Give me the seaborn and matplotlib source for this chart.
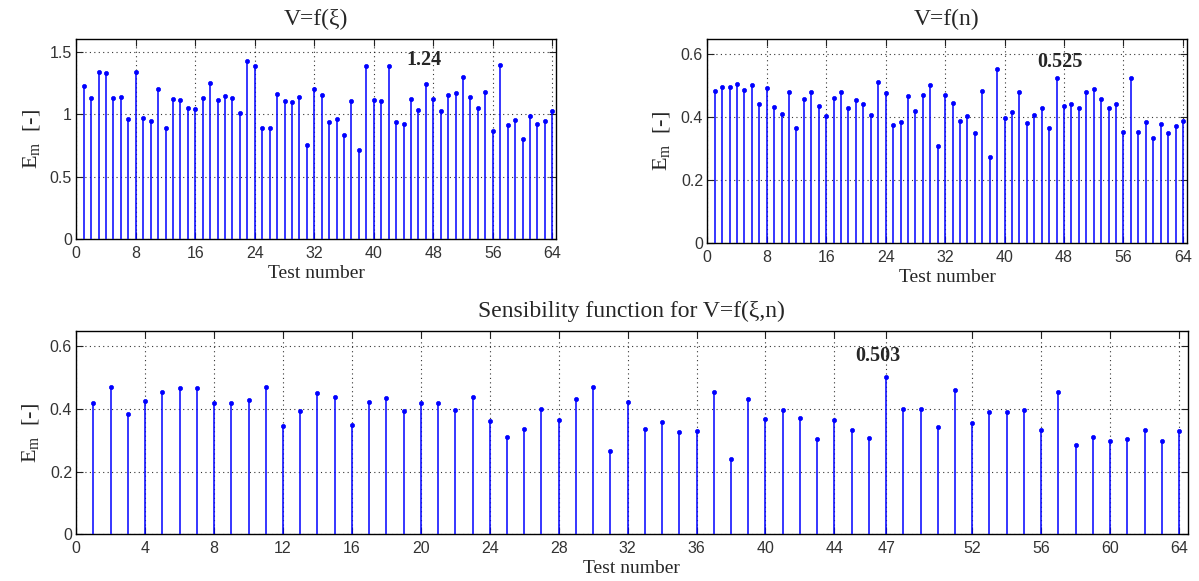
import numpy as np
import pandas as pd
import matplotlib
matplotlib.use("Agg")
import matplotlib.pyplot as plt
import seaborn as sns

# ---------------- data ----------------
tests = list(range(1, 65))

em_xi = [1.224, 1.131, 1.333, 1.325, 1.131, 1.139, 0.964, 1.333, 0.972, 0.948,
         1.200, 0.887, 1.123, 1.112, 1.049, 1.038, 1.131, 1.248, 1.115, 1.142,
         1.131, 1.006, 1.423, 1.383, 0.887, 0.887, 1.158, 1.104, 1.096, 1.139,
         0.754, 1.200, 1.152, 0.940, 0.964, 0.831, 1.104, 0.714, 1.383, 1.115,
         1.107, 1.386, 0.935, 0.924, 1.123, 1.030, 1.240, 1.123, 1.025, 1.150,
         1.165, 1.298, 1.139, 1.049, 1.173, 0.865, 1.391, 0.916, 0.956, 0.804,
         0.982, 0.924, 0.948, 1.022]

em_n = [0.484, 0.497, 0.497, 0.507, 0.488, 0.502, 0.441, 0.494, 0.434, 0.411,
        0.480, 0.367, 0.457, 0.480, 0.437, 0.403, 0.460, 0.480, 0.428, 0.454,
        0.441, 0.407, 0.511, 0.477, 0.374, 0.384, 0.467, 0.421, 0.472, 0.503,
        0.310, 0.471, 0.446, 0.388, 0.404, 0.350, 0.484, 0.274, 0.554, 0.397,
        0.418, 0.480, 0.381, 0.406, 0.428, 0.367, 0.525, 0.437, 0.441, 0.428,
        0.480, 0.491, 0.457, 0.431, 0.441, 0.354, 0.524, 0.354, 0.384, 0.333,
        0.377, 0.350, 0.371, 0.388]

em_xin = [0.418, 0.471, 0.384, 0.424, 0.455, 0.468, 0.468, 0.418, 0.418, 0.429,
          0.471, 0.347, 0.395, 0.451, 0.438, 0.350, 0.422, 0.435, 0.395, 0.418,
          0.418, 0.398, 0.438, 0.361, 0.311, 0.335, 0.401, 0.365, 0.431, 0.469,
          0.265, 0.421, 0.335, 0.359, 0.328, 0.331, 0.455, 0.241, 0.431, 0.368,
          0.398, 0.371, 0.305, 0.365, 0.334, 0.308, 0.503, 0.401, 0.401, 0.341,
          0.460, 0.354, 0.392, 0.392, 0.398, 0.334, 0.455, 0.284, 0.311, 0.297,
          0.305, 0.334, 0.297, 0.331]

titles = ["V=f(\u03be)", "V=f(n)", "Sensibility function for V=f(\u03be,n)"]
xlabel = "Test number"
ylabel = "E$_\\mathregular{m}$  [-]"

xticks_top = [0, 8, 16, 24, 32, 40, 48, 56, 64]
xticks_bottom = [0, 4, 8, 12, 16, 20, 24, 28, 32, 36, 40, 44, 47, 52, 56, 60, 64]
yticks_xi = [0, 0.5, 1, 1.5]
ytick_labels_xi = ["0", "0.5", "1", "1.5"]
yticks_n = [0, 0.2, 0.4, 0.6]
ytick_labels_n = ["0", "0.2", "0.4", "0.6"]

annot = [("1.24", 47), ("0.525", 47), ("0.503", 47)]

# ---------------- style ----------------
sns.set_style("white")
plt.rcParams["font.family"] = ["Liberation Serif", "DejaVu Serif"]
plt.rcParams["mathtext.fontset"] = "custom"
plt.rcParams["mathtext.rm"] = "Liberation Serif"
plt.rcParams["mathtext.it"] = "Liberation Serif:italic"

fig = plt.figure(figsize=(11.99, 5.81), dpi=100)
ax1 = fig.add_axes([0.0636, 0.5886, 0.4001, 0.3442])
ax2 = fig.add_axes([0.5899, 0.5818, 0.3998, 0.3516])
ax3 = fig.add_axes([0.0636, 0.0804, 0.9269, 0.3504])

blue = "#0000ff"

def draw(ax, values, ylim, yticks, yticklabels, xticks, title, label, xtext, ytext):
    df = pd.DataFrame({"test": tests, "em": values})
    ax.vlines(df["test"], 0, df["em"], color=blue, linewidth=1.1, zorder=3)
    sns.scatterplot(data=df, x="test", y="em", ax=ax, color=blue, s=9,
                    marker="o", edgecolor=blue, linewidth=0.5, zorder=4, legend=False)
    ax.set_xlim(0, 64.5)
    ax.set_ylim(*ylim)
    ax.set_xticks(xticks)
    ax.set_xticklabels([str(t) for t in xticks], family=["Liberation Sans"],
                       fontsize=11.5, color="#333333")
    ax.set_yticks(yticks)
    ax.set_yticklabels(yticklabels, family=["Liberation Sans"], fontsize=11.5,
                       color="#333333")
    ax.tick_params(direction="in", length=5, width=0.8, top=True, right=True,
                   bottom=True, left=True, pad=3, color="#222222")
    ax.tick_params(axis="x", pad=5)
    ax.grid(True, linestyle=(0, (1, 3)), color="black", linewidth=0.8, alpha=0.8)
    ax.set_axisbelow(True)
    for sp in ax.spines.values():
        sp.set_visible(True)
        sp.set_color("black")
        sp.set_linewidth(1.0)
    ax.set_title(title, fontsize=17, pad=10)
    ax.set_xlabel(xlabel, fontsize=14, labelpad=3)
    ax.set_ylabel(ylabel, fontsize=16, labelpad=6)
    ax.text(xtext, ytext, label, ha="center", va="center", fontsize=14.5,
            fontweight="bold", zorder=5)

draw(ax1, em_xi, (0, 1.6), yticks_xi, ytick_labels_xi, xticks_top, titles[0],
     annot[0][0], 46.7, 1.43)
draw(ax2, em_n, (0, 0.65), yticks_n, ytick_labels_n, xticks_top, titles[1],
     annot[1][0], 47.5, 0.575)
draw(ax3, em_xin, (0, 0.65), yticks_n, ytick_labels_n, xticks_bottom, titles[2],
     annot[2][0], 46.5, 0.57)

fig.savefig("out.png", dpi=100)
